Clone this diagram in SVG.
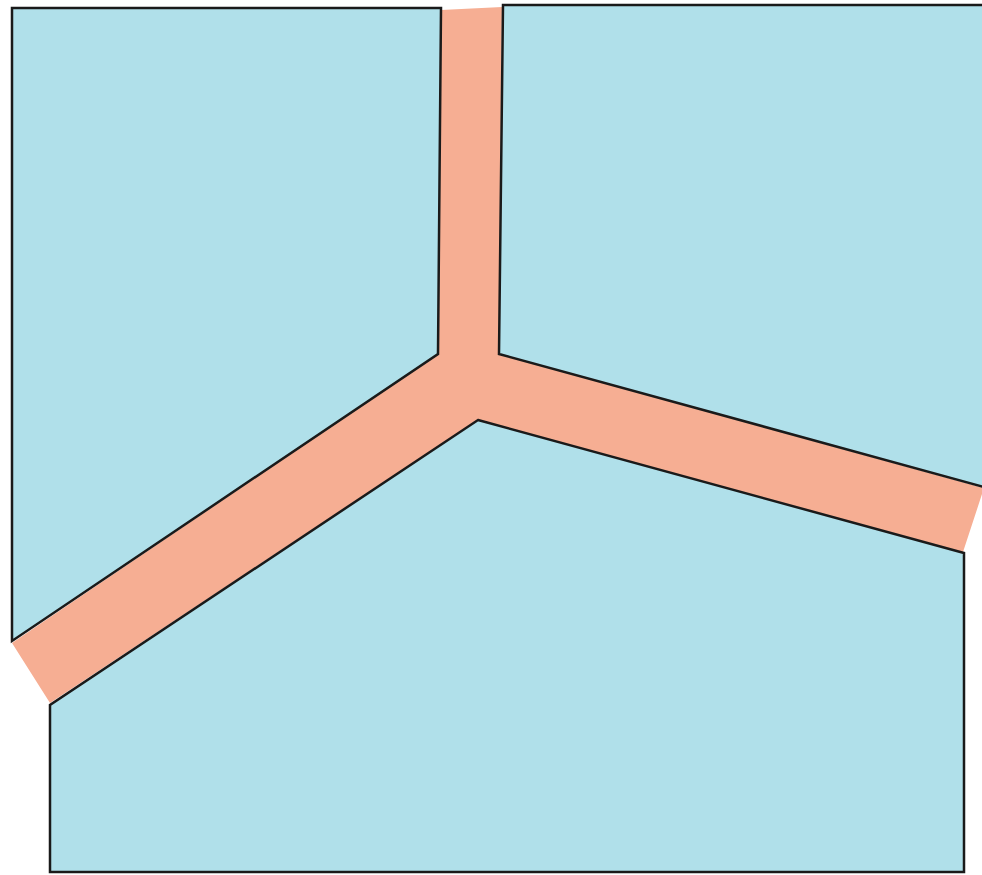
<svg xmlns="http://www.w3.org/2000/svg" width="982" height="875" viewBox="0 0 982 875">
<style>
.block{fill:#b0e0ea;stroke:#1a1a1a;stroke-width:2.5;stroke-linejoin:miter}
.band{fill:#f6ae93;stroke:none}
</style>
<rect width="982" height="875" fill="#ffffff"/>
<g id="band">
<polygon class="band" points="441,10 502,7 499,354 984,488 963,552 478,420 50,703 12,643 438,354"/>
</g>
<g id="block-top-left">
<polygon class="block" points="12,8 441,8 438,354 12,641"/>
</g>
<g id="block-top-right">
<polygon class="block" points="503,5 984,5 984,487 499,354"/>
</g>
<g id="block-bottom">
<polygon class="block" points="478,420 964,553 964,872 50,872 50,705"/>
</g>
</svg>
